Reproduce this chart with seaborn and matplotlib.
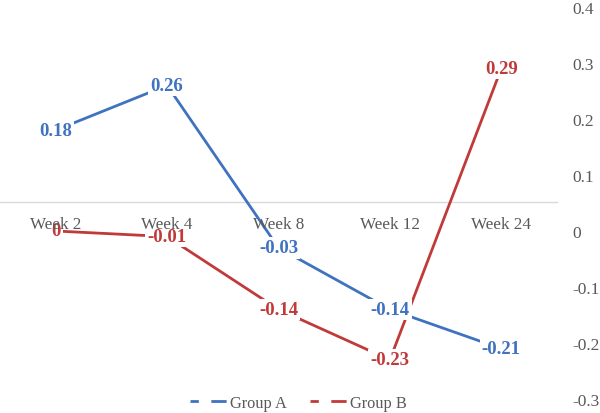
import matplotlib
matplotlib.use("Agg")
import matplotlib.pyplot as plt
from matplotlib.lines import Line2D
from matplotlib.ticker import FuncFormatter, MultipleLocator
import seaborn as sns
import pandas as pd

weeks = ["Week 2", "Week 4", "Week 8", "Week 12", "Week 24"]
group_a = [0.18, 0.26, -0.03, -0.14, -0.21]
group_b = [0.0, -0.01, -0.14, -0.23, 0.29]
series_names = ["Group A", "Group B"]
colors = ["#3F72BF", "#C13A3A"]
axis_cross = 0.052

sns.set_theme(style="white")
plt.rcParams["font.family"] = ["Liberation Serif", "DejaVu Serif"]
plt.rcParams["axes.unicode_minus"] = False
plt.rcParams["lines.scale_dashes"] = False

df = pd.DataFrame({
    "week": weeks * 2,
    "value": group_a + group_b,
    "group": [series_names[0]] * len(weeks) + [series_names[1]] * len(weeks),
})

fig = plt.figure(figsize=(6.0, 4.14), dpi=100)
ax = fig.add_axes([0.0, 0.0338, 0.9283, 0.9469])

sns.lineplot(data=df, x="week", y="value", hue="group", palette=colors,
             linewidth=2.0, legend=False, ax=ax, sort=False, zorder=3)

for vals, col in zip([group_a, group_b], colors):
    for i, v in enumerate(vals):
        ax.text(i, v, f"{v:g}", ha="center", va="center", fontsize=13.5,
                fontweight="bold", color=col, zorder=4,
                bbox=dict(boxstyle="square,pad=0.12", fc="white", ec="none"))

ax.set_xlim(-0.5, len(weeks) - 0.5)
ax.set_ylim(-0.3, 0.4)
ax.yaxis.set_major_locator(MultipleLocator(0.1))
ax.yaxis.set_major_formatter(FuncFormatter(lambda v, p: f"{round(v, 2):g}"))
ax.yaxis.tick_right()
ax.tick_params(axis="y", length=0, pad=11, labelsize=12.5, labelcolor="#595959")
for lab in ax.get_yticklabels():
    lab.set_horizontalalignment("left")

for s in ["top", "left", "right"]:
    ax.spines[s].set_visible(False)
ax.spines["bottom"].set_position(("data", axis_cross))
ax.spines["bottom"].set_color("#D9D9D9")
ax.spines["bottom"].set_linewidth(1.0)
ax.spines["bottom"].set_zorder(1)
ax.tick_params(axis="x", length=0, pad=10, labelsize=12.3, labelcolor="#595959")
ax.xaxis.set_zorder(4.5)
ax.set_xlabel("")
ax.set_ylabel("")
ax.grid(False)

handles = [Line2D([0], [0], color=c, lw=2.0, linestyle=(0, (6, 9, 11, 4)))
           for c in colors]
fig.legend(handles, series_names, loc="center", bbox_to_anchor=(0.497, 0.024),
           ncol=2, frameon=False, fontsize=11.8, handlelength=2.3,
           handletextpad=0.15, columnspacing=1.4, labelcolor="#595959")

fig.savefig("out.png", dpi=100)
